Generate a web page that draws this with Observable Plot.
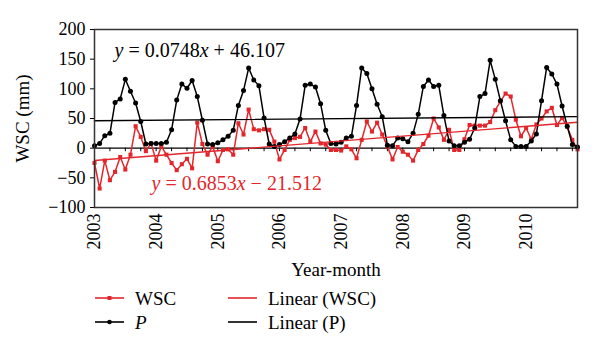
<!DOCTYPE html>
<html><head><meta charset="utf-8">
<script src="https://cdn.jsdelivr.net/npm/d3@7"></script>
<script src="https://cdn.jsdelivr.net/npm/@observablehq/plot@0.6"></script>
<style>
body{margin:0;background:#fff;}
#chart{width:600px;height:354px;font-family:"Liberation Serif","Times New Roman",serif;}
#chart svg{display:block;}
#chart svg text{font-family:"Liberation Serif","Times New Roman",serif;}
</style></head><body><div id="chart"></div>
<script>
// ---- data (monthly, Jan 2003 onward) ----
const years = ["2003","2004","2005","2006","2007","2008","2009","2010"];
const wsc = [-25,-68,-21,-54,-40,-15,-36,-11,37,19,
  -5,8,-21,3,-11,-25,-37,-27,-18,-34,
  43,7,-11,3,-22,-3,-2,-11,42,23,
  65,32,30,32,31,11,-19,-3,14,17,
  19,34,11,28,8,6,-3,-3,-4,3,
  -2,-17,14,45,28,43,23,3,-19,2,
  -6,-11,-21,-3,7,21,50,35,14,31,
  -3,-3,15,39,38,38,38,44,64,79,
  92,87,48,20,34,15,40,50,62,68,
  39,51,36,14,-2];
const precip = [4,8,21,25,77,83,116,96,76,45,
  7,8,8,8,10,31,81,108,101,114,
  87,47,7,6,9,14,20,30,72,97,
  135,115,105,51,7,3,6,11,17,24,
  49,106,108,103,75,30,8,7,10,17,
  20,72,135,126,100,74,53,5,4,17,
  16,11,25,57,104,115,104,106,55,12,
  4,4,10,15,34,87,92,148,116,80,
  46,14,3,3,3,12,24,80,136,125,
  108,71,37,6,2];
const trendWSC = {slope: 0.6853, intercept: -21.512};
const trendP = {slope: 0.0748, intercept: 46.107};
const yTicks = [-100, -50, 0, 50, 100, 150, 200];
const RED = "#e3262b";
const FONT = '"Liberation Serif", "Times New Roman", serif';
const FS = 18;

const n = wsc.length;
const rows = wsc.map((v, i) => ({i, wsc: v, p: precip[i]}));
const trendRows = [0, n - 1].map(i => ({
  i,
  wsc: trendWSC.slope * (i + 1) + trendWSC.intercept,
  p: trendP.slope * (i + 1) + trendP.intercept
}));
const minorTicks = d3.range(0, n, 3);
const yearTicks = years.map((y, k) => k * 12);

const plot = Plot.plot({
  width: 600, height: 282,
  marginTop: 29, marginBottom: 75, marginLeft: 94, marginRight: 23,
  style: {fontFamily: FONT, fontSize: FS + "px", background: "white", color: "black"},
  x: {domain: [0, n - 1], axis: null},
  y: {domain: [-100, 200], axis: null},
  marks: [
    Plot.ruleY([0], {stroke: "black", strokeWidth: 1.2}),
    Plot.ruleX(minorTicks, {x: d => d, y1: 0, y2: -6, stroke: "black", strokeWidth: 1}),
    Plot.axisY({ticks: yTicks, tickSize: 4, tickPadding: 5, fontSize: FS, label: null, anchor: "left"}),
    Plot.axisX(yearTicks, {tickFormat: d => years[d / 12], tickRotate: -90, tickSize: 0, tickPadding: 6, fontSize: FS, label: null, anchor: "bottom"}),
    Plot.line(rows, {x: "i", y: "wsc", stroke: RED, strokeWidth: 1.5}),
    Plot.dot(rows, {x: "i", y: "wsc", symbol: "square", r: 2.3, fill: RED}),
    Plot.line(rows, {x: "i", y: "p", stroke: "black", strokeWidth: 1.5}),
    Plot.dot(rows, {x: "i", y: "p", r: 2.5, fill: "black"}),
    Plot.line(trendRows, {x: "i", y: "p", stroke: "black", strokeWidth: 1.4}),
    Plot.line(trendRows, {x: "i", y: "wsc", stroke: RED, strokeWidth: 1.4}),
    Plot.frame({stroke: "#333", strokeWidth: 1.5}),
    Plot.text(["WSC (mm)"], {frameAnchor: "left", dx: -72, rotate: -90, textAnchor: "middle", fontSize: 19}),
    Plot.text(["Year-month"], {frameAnchor: "bottom", dy: 68, textAnchor: "middle", fontSize: 19})
  ]
});

// equations of the trend lines
const sx = plot.scale("x"), sy = plot.scale("y");
const svg = d3.select(plot);
function eq(t, xi, yv, color) {
  const sign = t.intercept < 0 ? " \u2212 " : " + ";
  const txt = svg.append("text")
    .attr("x", sx.apply(xi)).attr("y", sy.apply(yv))
    .attr("text-anchor", "start")
    .attr("fill", color).attr("font-size", 20);
  txt.append("tspan").attr("font-style", "italic").text("y");
  txt.append("tspan").text(" = " + t.slope.toFixed(4));
  txt.append("tspan").attr("font-style", "italic").text("x");
  txt.append("tspan").text(sign + Math.abs(t.intercept).toFixed(3));
}
eq(trendP, 4.0, 153, "black");
eq(trendWSC, 11.2, -71, RED);

document.getElementById("chart").appendChild(plot);

// legend below the chart
const leg = d3.select("#chart").append("svg").attr("width", 600).attr("height", 72)
  .attr("font-size", 19);
const items = [
  {label: "WSC", color: RED, marker: "square", x: 95, row: 0, italic: false},
  {label: "P", color: "black", marker: "circle", x: 95, row: 1, italic: true},
  {label: "Linear (WSC)", color: RED, marker: null, x: 228, row: 0, italic: false},
  {label: "Linear (P)", color: "black", marker: null, x: 228, row: 1, italic: false}
];
items.forEach(it => {
  const y = 16 + it.row * 24;
  const g = leg.append("g");
  g.append("line").attr("x1", it.x).attr("x2", it.x + 29).attr("y1", y).attr("y2", y)
    .attr("stroke", it.color).attr("stroke-width", 1.6);
  if (it.marker === "square") g.append("rect").attr("x", it.x + 12.5).attr("y", y - 2).attr("width", 4).attr("height", 4).attr("fill", it.color);
  if (it.marker === "circle") g.append("circle").attr("cx", it.x + 14.5).attr("cy", y).attr("r", 2.3).attr("fill", it.color);
  g.append("text").attr("x", it.x + 40).attr("y", y + 6.5).attr("fill", "black")
    .attr("font-style", it.italic ? "italic" : null).text(it.label);
});
</script></body></html>
